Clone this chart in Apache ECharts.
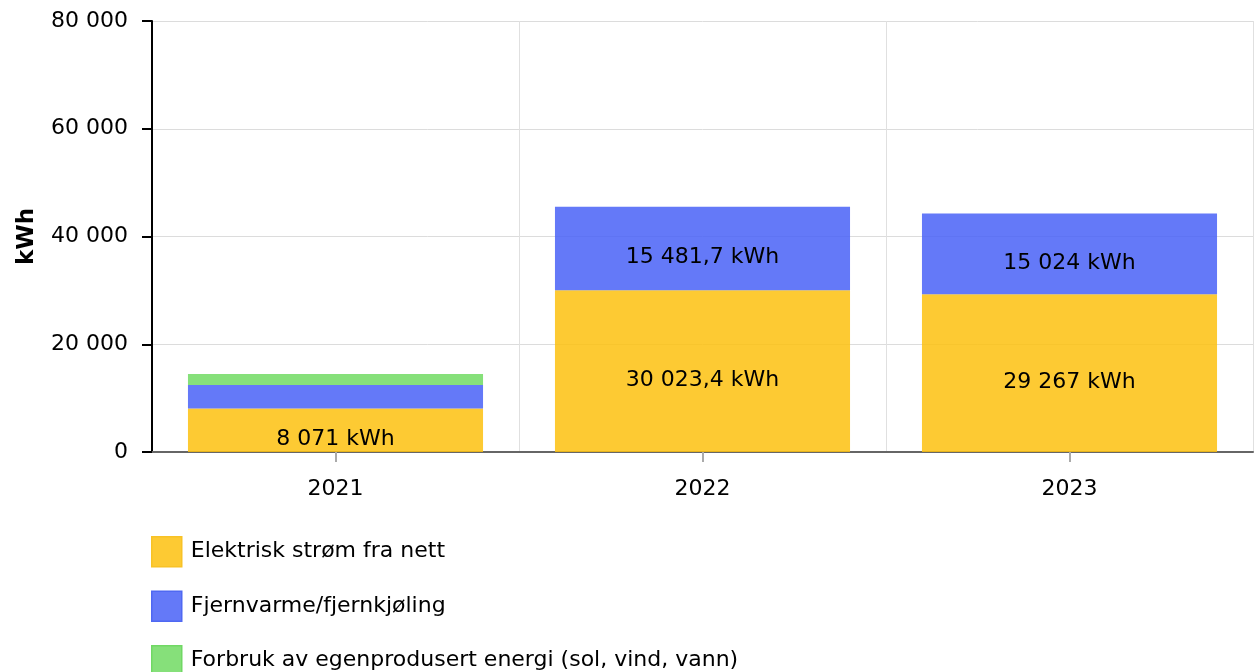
<!DOCTYPE html>
<html>
<head>
<meta charset="utf-8">
<script src="https://cdn.jsdelivr.net/npm/echarts@6/dist/echarts.min.js"></script>
<style>
html,body{margin:0;padding:0;background:#fff;}
#chart{width:1255px;height:672px;}
</style>
</head>
<body>
<div id="chart"></div>
<script>
const categories = ['2021', '2022', '2023'];
const seriesNames = ['Elektrisk strøm fra nett', 'Fjernvarme/fjernkjøling', 'Forbruk av egenprodusert energi (sol, vind, vann)'];
const elektrisk = [8071, 30023.4, 29267];
const fjernvarme = [4370, 15481.7, 15024];
const egenprodusert = [2040, 0, 0];
const showLabel = [[true, true, true], [false, true, true], [false, false, false]];
const yTicks = [0, 20000, 40000, 60000, 80000];

const FONT = 'DejaVu Sans';
const colors = ['rgba(253,193,15,0.85)', 'rgba(73,97,247,0.85)', 'rgba(113,219,99,0.85)'];
const legendColors = ['#fdca33', '#6479f8', '#86e07a'];
const borders = ['#f8c226', '#4f68f2', '#70d864'];

function fmt(v) {
  const parts = String(v).split('.');
  const intPart = parts[0].replace(/\B(?=(\d{3})+(?!\d))/g, ' ');
  return parts.length > 1 ? intPart + ',' + parts[1] : intPart;
}

const dataSets = [elektrisk, fjernvarme, egenprodusert];
const series = dataSets.map((arr, si) => ({
  name: seriesNames[si],
  type: 'bar',
  stack: 'total',
  barWidth: '80.4%',
  itemStyle: { color: colors[si] },
  data: arr.map((v, i) => ({
    value: v,
    label: {
      show: showLabel[si][i],
      position: 'inside',
      offset: [0, 9],
      formatter: p => fmt(p.value) + ' kWh',
      fontFamily: FONT,
      fontSize: 22,
      color: '#000'
    }
  }))
}));

const chart = echarts.init(document.getElementById('chart'), null, { renderer: 'canvas' });
chart.setOption({
  animation: false,
  textStyle: { fontFamily: FONT },
  grid: { left: 152, right: 2, top: 21, bottom: 220, containLabel: false, outerBoundsMode: 'none' },
  legend: {
    orient: 'vertical',
    left: 146,
    top: 531,
    height: 160,
    itemWidth: 30,
    itemHeight: 30,
    itemGap: 23,
    icon: 'rect',
    textStyle: { fontFamily: FONT, fontSize: 22, color: '#000', padding: [0, 0, 0, 4] },
    data: seriesNames.map((n, i) => ({ name: n, itemStyle: { color: legendColors[i], borderColor: borders[i], borderWidth: 1.5 } }))
  },
  xAxis: {
    type: 'category',
    data: categories,
    axisLine: { lineStyle: { color: '#666', width: 2 } },
    axisTick: { show: true, alignWithLabel: true, length: 10, lineStyle: { color: '#aaa', width: 2 } },
    axisLabel: { fontFamily: FONT, fontSize: 22, color: '#000', margin: 26 },
    splitLine: { show: true, lineStyle: { color: '#e0e0e0', width: 1 } }
  },
  yAxis: {
    type: 'value',
    min: yTicks[0],
    max: yTicks[yTicks.length - 1],
    interval: yTicks[1] - yTicks[0],
    name: 'kWh',
    nameLocation: 'middle',
    nameGap: 113,
    nameRotate: 90,
    nameTextStyle: { fontFamily: FONT, fontSize: 23, fontWeight: 'bold', color: '#000' },
    axisLine: { show: true, lineStyle: { color: '#000', width: 2 } },
    axisTick: { show: true, length: 10, lineStyle: { color: '#000', width: 2 } },
    axisLabel: { fontFamily: FONT, fontSize: 22, color: '#000', margin: 24, formatter: v => fmt(v) },
    splitLine: { show: true, lineStyle: { color: '#dcdcdc', width: 1 } }
  },
  series: series
});
</script>
</body>
</html>
